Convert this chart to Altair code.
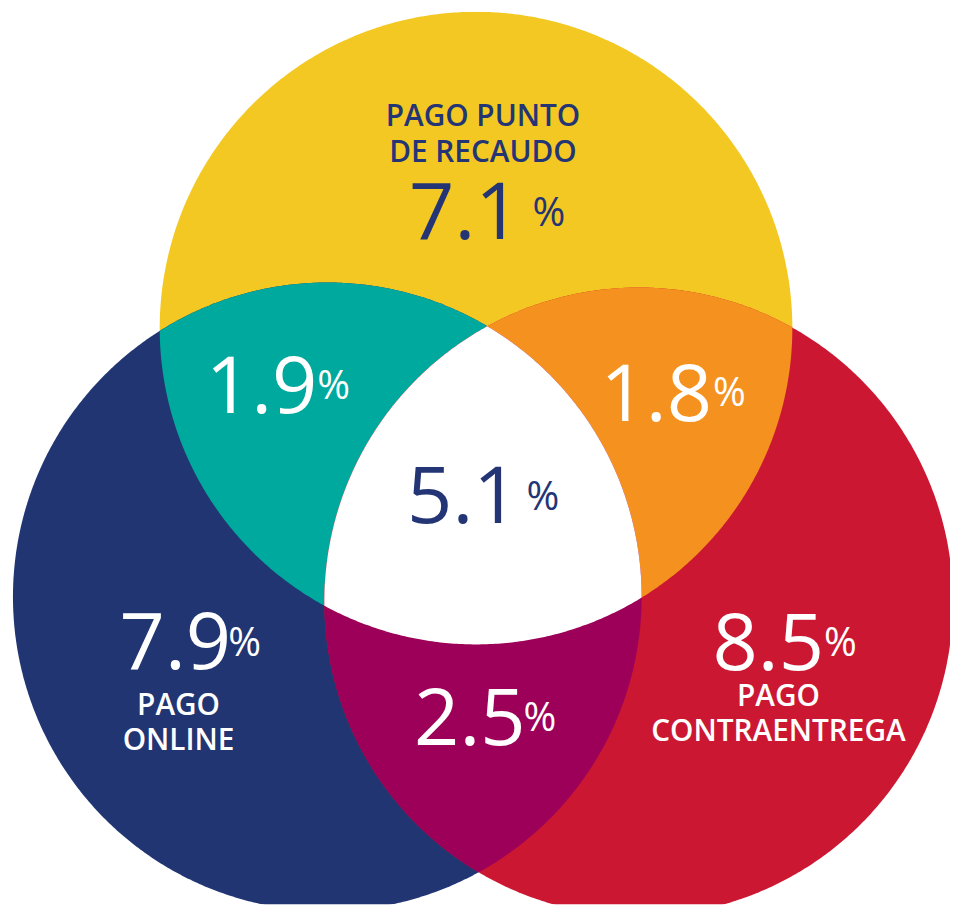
import altair as alt
import numpy as np
import pandas as pd

# ---------------- data ----------------
set_label_lines = [["PAGO PUNTO", "DE RECAUDO"], ["PAGO", "ONLINE"], ["PAGO", "CONTRAENTREGA"]]
region_keys = ["punto", "online", "contra", "punto+online", "punto+contra", "online+contra", "todos"]
region_members = [[0], [1], [2], [0, 1], [0, 2], [1, 2], [0, 1, 2]]
region_values = [7.1, 7.9, 8.5, 1.9, 1.8, 2.5, 5.1]

# ---------------- layout / style (page pixels) ----------------
circle_cx = [480, 330, 644]
circle_cy = [327, 598, 603]
circle_r = [319, 317, 317]
region_colors = ["#F4C822", "#213573", "#CC1733", "#00A99D", "#F5921F", "#9D0058", "#FFFFFF"]
value_colors = ["#233574", "#FFFFFF", "#FFFFFF", "#FFFFFF", "#FFFFFF", "#FFFFFF", "#233574"]
value_right_x = [522, 230, 828, 317, 715, 527, 520]
value_base_y = [237, 671, 672, 413, 421, 747, 524]
pct_left_x = [539, 232, 833, 322, 721, 530, 533]
pct_base_y = [224, 658, 658, 398, 406, 733, 510]
label_x = [487, 180, 785]
label_y = [[123, 159], [717, 752], [708, 743]]
label_colors = ["#233574", "#FFFFFF", "#FFFFFF"]
NUM_FONT = "Open Sans"


def circle_points(i, n=720):
    t = np.linspace(0, 2 * np.pi, n, endpoint=False)
    return np.column_stack([circle_cx[i] + circle_r[i] * np.cos(t),
                            circle_cy[i] + circle_r[i] * np.sin(t)])


def inside(P, i, tol=1e-6):
    return (P[:, 0] - circle_cx[i]) ** 2 + (P[:, 1] - circle_cy[i]) ** 2 <= circle_r[i] ** 2 + tol


def pair_points(i, j):
    x0, y0, r0 = circle_cx[i], circle_cy[i], circle_r[i]
    x1, y1, r1 = circle_cx[j], circle_cy[j], circle_r[j]
    d = np.hypot(x1 - x0, y1 - y0)
    a = (r0 ** 2 - r1 ** 2 + d ** 2) / (2 * d)
    h = np.sqrt(max(r0 ** 2 - a ** 2, 0))
    xm = x0 + a * (x1 - x0) / d
    ym = y0 + a * (y1 - y0) / d
    return np.array([[xm + h * (y1 - y0) / d, ym - h * (x1 - x0) / d],
                     [xm - h * (y1 - y0) / d, ym + h * (x1 - x0) / d]])


def region_ring(members):
    parts = []
    for i in members:
        P = circle_points(i)
        m = np.ones(len(P), bool)
        for j in members:
            if j != i:
                m &= inside(P, j)
        parts.append(P[m])
    for a in members:
        for b in members:
            if a < b:
                Q = pair_points(a, b)
                m = np.ones(len(Q), bool)
                for j in members:
                    if j not in (a, b):
                        m &= inside(Q, j, tol=700.0)
                parts.append(Q[m])
    P = np.vstack(parts)
    c = P.mean(axis=0)
    P = P[np.argsort(np.arctan2(P[:, 1] - c[1], P[:, 0] - c[0]))]
    ring = [[float(x), float(y)] for x, y in P]
    ring.append(ring[0])
    return ring


features = []
for k, mem, col in zip(region_keys, region_members, region_colors):
    features.append({
        "type": "Feature",
        "properties": {"region": k, "fill": col},
        "geometry": {"type": "Polygon", "coordinates": [region_ring(mem)]},
    })

shapes = alt.Chart(alt.Data(values=features)).mark_geoshape(
    strokeWidth=0, clip=True
).encode(color=alt.Color("properties.fill:N", scale=None))

vals = pd.DataFrame({
    "region": region_keys,
    "text": [f"{v:.1f}" for v in region_values],
    "lon": value_right_x,
    "lat": value_base_y,
    "plon": pct_left_x,
    "plat": pct_base_y,
    "color": value_colors,
})

numbers = alt.Chart(vals).mark_text(
    align="right", baseline="alphabetic", font=NUM_FONT, fontSize=80, dx=3
).encode(longitude="lon:Q", latitude="lat:Q", text="text:N",
         color=alt.Color("color:N", scale=None))

pcts = alt.Chart(vals).mark_text(
    align="left", baseline="alphabetic", font=NUM_FONT, fontSize=40, dx=-2, text="%"
).encode(longitude="plon:Q", latitude="plat:Q",
         color=alt.Color("color:N", scale=None))

lab_rows = []
for lines, x, ys, col in zip(set_label_lines, label_x, label_y, label_colors):
    for line, y in zip(lines, ys):
        lab_rows.append({"text": line, "lon": x, "lat": y, "color": col})
labels = alt.Chart(pd.DataFrame(lab_rows)).mark_text(
    align="center", baseline="alphabetic", font="Open Sans", fontSize=30, fontWeight=600
).encode(longitude="lon:Q", latitude="lat:Q", text="text:N",
         color=alt.Color("color:N", scale=None))

chart = alt.layer(shapes, numbers, pcts, labels).project(
    type="identity", scale=1, translate=[-8, -8]
).properties(width=950, height=900, padding=0).configure_view(strokeWidth=0)

chart.save("out.html", embed_options={"renderer": "svg", "actions": False})
